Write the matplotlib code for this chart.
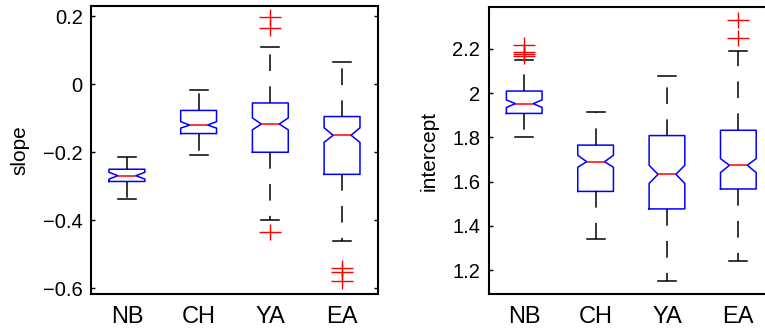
import matplotlib
matplotlib.use("Agg")
import matplotlib.pyplot as plt
from matplotlib.path import Path

plt.rcParams['font.family'] = ['Liberation Sans', 'DejaVu Sans']
plt.rcParams['lines.scale_dashes'] = False

groups = ["NB", "CH", "YA", "EA"]

# slope statistics per group
slope_med = [-0.269, -0.120, -0.117, -0.150]
slope_q1 = [-0.286, -0.145, -0.200, -0.265]
slope_q3 = [-0.250, -0.077, -0.055, -0.095]
slope_lo = [-0.339, -0.209, -0.399, -0.460]
slope_hi = [-0.215, -0.017, 0.111, 0.066]
slope_cilo = [-0.279, -0.129, -0.134, -0.171]
slope_cihi = [-0.259, -0.110, -0.099, -0.128]
slope_out = [[], [], [0.197, 0.165, -0.435], [-0.541, -0.553, -0.580]]

# intercept statistics per group
icpt_med = [1.952, 1.690, 1.633, 1.674]
icpt_q1 = [1.908, 1.556, 1.477, 1.567]
icpt_q3 = [2.009, 1.765, 1.808, 1.832]
icpt_lo = [1.803, 1.341, 1.150, 1.241]
icpt_hi = [2.149, 1.914, 2.078, 2.192]
icpt_cilo = [1.935, 1.665, 1.592, 1.641]
icpt_cihi = [1.969, 1.719, 1.674, 1.704]
icpt_out = [[2.218, 2.185, 2.177, 2.168], [], [], [2.328, 2.248]]

# wide "+" marker for outliers
plus = Path([(-1, 0), (1, 0), (0, -0.72), (0, 0.72)],
            [Path.MOVETO, Path.LINETO, Path.MOVETO, Path.LINETO])


def stats(med, q1, q3, lo, hi, cilo, cihi, out):
    return [dict(med=med[i], q1=q1[i], q3=q3[i], whislo=lo[i], whishi=hi[i],
                 cilo=cilo[i], cihi=cihi[i], fliers=out[i], label=groups[i])
            for i in range(len(groups))]


def draw(ax, st, ylabel, ylim, yticks, yticklabels):
    ax.bxp(st, positions=[1, 2, 3, 4], widths=0.5, shownotches=True,
           boxprops=dict(color='#0000ff', lw=1.1),
           medianprops=dict(color='#ff0000', lw=1.1),
           whiskerprops=dict(color='black', lw=1.1, linestyle=(0, (12, 11))),
           capprops=dict(color='black', lw=1.1),
           flierprops=dict(marker=plus, markersize=16, markeredgecolor='#ff0000',
                           markerfacecolor='none', markeredgewidth=1.0, linestyle='none'))
    ax.set_xlim(0.5, 4.5)
    ax.set_ylim(*ylim)
    ax.set_yticks(yticks)
    ax.set_yticklabels(yticklabels, fontsize=14.5)
    ax.set_xticks([1, 2, 3, 4])
    ax.set_xticklabels(groups, fontsize=17)
    ax.tick_params(axis='x', length=0, pad=9)
    ax.tick_params(axis='y', direction='in', length=3, width=1, right=True, pad=6)
    for s in ax.spines.values():
        s.set_linewidth(1.5)
    ax.set_ylabel(ylabel, fontsize=15, labelpad=10)


fig = plt.figure(figsize=(7.65, 3.34), dpi=100)
ax1 = fig.add_axes([0.119, 0.1198, 0.375, 0.862])
ax2 = fig.add_axes([0.6386, 0.1198, 0.3732, 0.859])

draw(ax1, stats(slope_med, slope_q1, slope_q3, slope_lo, slope_hi,
                slope_cilo, slope_cihi, slope_out),
     "slope", (-0.617, 0.230), [-0.6, -0.4, -0.2, 0, 0.2],
     ["\u22120.6", "\u22120.4", "\u22120.2", "0", "0.2"])
draw(ax2, stats(icpt_med, icpt_q1, icpt_q3, icpt_lo, icpt_hi,
                icpt_cilo, icpt_cihi, icpt_out),
     "intercept", (1.093, 2.388), [1.2, 1.4, 1.6, 1.8, 2.0, 2.2],
     ["1.2", "1.4", "1.6", "1.8", "2", "2.2"])

fig.savefig("out.png", dpi=100)
